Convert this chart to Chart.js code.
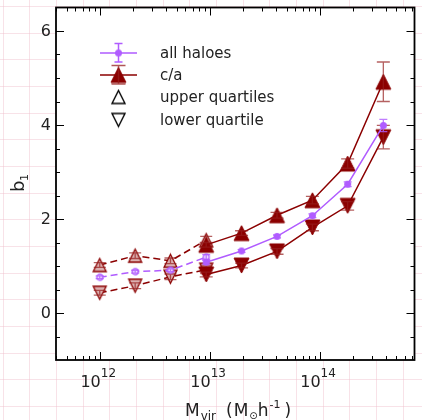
<!DOCTYPE html>
<html>
<head>
<meta charset="utf-8">
<script src="https://cdn.jsdelivr.net/npm/chart.js@4.4.1/dist/chart.umd.min.js"></script>
<style>
    html, body { margin: 0; padding: 0; background: #fff; }
    #wrap { width: 422px; height: 420px; }
</style>
</head>
<body>
<div id="wrap"><canvas id="biasChart" width="422" height="420"></canvas></div>
<script>
// Halo mass bins, M_vir in Msun/h (low-mass bins drawn dashed)
const massLow = [1.0e12, 2.1e12, 4.4e12, 9.3e12];
const massHigh = [9.3e12, 1.95e13, 4.1e13, 8.6e13, 1.8e14, 3.8e14];

// b1 for all haloes
const allLow = [0.76, 0.88, 0.91, 1.19];
const allLowErr = [0.03, 0.03, 0.03, 0.05];
const allHigh = [1.08, 1.32, 1.63, 2.07, 2.74, 3.99];
const allHighErr = [0.04, 0.03, 0.03, 0.04, 0.05, 0.13];

// b1 for the upper c/a quartile
const upperLow = [1.02, 1.22, 1.11, 1.55];
const upperLowErr = [0.05, 0.06, 0.06, 0.08];
const upperHigh = [1.45, 1.70, 2.08, 2.40, 3.18, 4.92];
const upperHighErr = [0.05, 0.05, 0.06, 0.08, 0.10, 0.42];

// b1 for the lower c/a quartile
const lowerLow = [0.43, 0.58, 0.77, 0.92];
const lowerLowErr = [0.05, 0.06, 0.06, 0.08];
const lowerHigh = [0.82, 1.01, 1.31, 1.82, 2.28, 3.74];
const lowerHighErr = [0.05, 0.05, 0.06, 0.07, 0.09, 0.25];

const yTicks = [0, 2, 4, 6];
const xTickExps = [12, 13, 14];
const legendLabels = ["all haloes", "c/a", "upper quartiles", "lower quartile"];

const darkRed = "#8b0000";
const paleRed = "#dcb0b0";
const purple = "#b05cff";
const font = "'DejaVu Sans', sans-serif";

// small canvases used as point styles so triangles are centred on their box
function marker(shape, size, fill, stroke, lw) {
    const c = document.createElement("canvas");
    c.width = c.height = Math.ceil(size + 4);
    const g = c.getContext("2d");
    const m = c.width / 2, h = size / 2;
    g.beginPath();
    if (shape === "up") {
        g.moveTo(m, m - h); g.lineTo(m + h, m + h); g.lineTo(m - h, m + h); g.closePath();
    } else if (shape === "down") {
        g.moveTo(m, m + h); g.lineTo(m + h, m - h); g.lineTo(m - h, m - h); g.closePath();
    } else {
        g.arc(m, m, h, 0, Math.PI * 2);
    }
    if (fill) { g.fillStyle = fill; g.fill(); }
    if (stroke) { g.lineWidth = lw; g.strokeStyle = stroke; g.lineJoin = "miter"; g.stroke(); }
    return c;
}

const upFilled = marker("up", 15, darkRed, darkRed, 1);
const downFilled = marker("down", 15, darkRed, darkRed, 1);
const upPale = marker("up", 13, paleRed, darkRed, 1.3);
const downPale = marker("down", 13, paleRed, darkRed, 1.3);
const dotFilled = marker("dot", 7, purple, null, 0);
const dotOpen = marker("dot", 6, "#ecd8ff", purple, 1.3);

const pts = (xs, ys) => xs.map((x, i) => ({ x: x, y: ys[i] }));

function series(xs, ys, errs, style, color, dashed, order, errColor, capW) {
    return {
        data: pts(xs, ys),
        errors: errs,
        errColor: errColor,
        capW: capW,
        borderColor: color,
        borderWidth: 1.5,
        borderDash: dashed ? [7, 4] : [],
        pointStyle: style,
        pointRadius: 6,
        showLine: true,
        fill: false,
        order: order,
    };
}

// error bars, drawn just above each dataset's markers
const errorBars = {
    id: "errorBars",
    afterDatasetDraw(chart, args) {
        const ds = chart.data.datasets[args.index];
        if (!ds.errors) return;
        const ctx = chart.ctx, y = chart.scales.y;
        ctx.save();
        ctx.strokeStyle = ds.errColor;
        ctx.lineWidth = 1.3;
        args.meta.data.forEach((p, i) => {
            const v = ds.data[i].y, e = ds.errors[i];
            const top = y.getPixelForValue(v + e), bot = y.getPixelForValue(v - e);
            ctx.beginPath();
            ctx.moveTo(p.x, top); ctx.lineTo(p.x, bot);
            ctx.moveTo(p.x - ds.capW / 2, top); ctx.lineTo(p.x + ds.capW / 2, top);
            ctx.moveTo(p.x - ds.capW / 2, bot); ctx.lineTo(p.x + ds.capW / 2, bot);
            ctx.stroke();
        });
        ctx.restore();
    },
};

// pink graph-paper page behind a white plot area
const paper = {
    id: "paper",
    beforeDraw(chart) {
        const ctx = chart.ctx, a = chart.chartArea;
        ctx.save();
        ctx.fillStyle = "#fff";
        ctx.fillRect(0, 0, chart.width, chart.height);
        ctx.strokeStyle = "rgba(240, 190, 205, 0.45)";
        ctx.lineWidth = 1;
        ctx.beginPath();
        for (let x = 2.5; x < chart.width; x += 26.67) {
            ctx.moveTo(Math.round(x) + 0.5, 0); ctx.lineTo(Math.round(x) + 0.5, chart.height);
        }
        for (let y = 6; y < chart.height; y += 26.67) {
            ctx.moveTo(0, Math.round(y) + 0.5); ctx.lineTo(chart.width, Math.round(y) + 0.5);
        }
        ctx.stroke();
        ctx.fillStyle = "#fff";
        ctx.fillRect(a.left, a.top, a.right - a.left, a.bottom - a.top);
        ctx.restore();
    },
};

// frame, inward ticks on all four sides, tick labels and axis titles
const frame = {
    id: "frame",
    afterDraw(chart) {
        const ctx = chart.ctx, a = chart.chartArea;
        const xs = chart.scales.x, ys = chart.scales.y;
        ctx.save();
        ctx.strokeStyle = "#000";
        ctx.lineWidth = 1;
        ctx.beginPath();
        // x ticks
        for (let e = 11; e <= 14; e++) {
            for (let k = 1; k <= 9; k++) {
                const v = k * Math.pow(10, e);
                if (v < xs.min || v > xs.max) continue;
                const px = Math.round(xs.getPixelForValue(v)) + 0.5;
                const len = k === 1 ? 8 : 4;
                ctx.moveTo(px, a.bottom); ctx.lineTo(px, a.bottom - len);
                ctx.moveTo(px, a.top); ctx.lineTo(px, a.top + len);
            }
        }
        // y ticks every 0.5, major every 2
        for (let v = -0.5; v < ys.max; v += 0.5) {
            const py = Math.round(ys.getPixelForValue(v)) + 0.5;
            const len = yTicks.includes(v) ? 8 : 4;
            ctx.moveTo(a.left, py); ctx.lineTo(a.left + len, py);
            ctx.moveTo(a.right, py); ctx.lineTo(a.right - len, py);
        }
        ctx.stroke();
        ctx.lineWidth = 1.8;
        ctx.strokeRect(a.left, a.top, a.right - a.left, a.bottom - a.top);

        ctx.fillStyle = "#222";
        ctx.font = "16px " + font;
        ctx.textAlign = "right";
        ctx.textBaseline = "middle";
        yTicks.forEach(v => ctx.fillText(String(v), 51, ys.getPixelForValue(v) + 1));

        ctx.textBaseline = "alphabetic";
        xTickExps.forEach(e => {
            const px = xs.getPixelForValue(Math.pow(10, e));
            ctx.font = "16px " + font;
            ctx.textAlign = "right";
            ctx.fillText("10", px + 1, 387);
            ctx.font = "12px " + font;
            ctx.textAlign = "left";
            ctx.fillText(String(e), px + 1, 377);
        });

        // x title: M_vir (M_sun h^-1); [text, size, baseline shift, gap before]
        const parts = [
            ["M", 17, 0, 0], ["vir", 12, 4, 1], ["(", 17, 0, 10], ["M", 17, 0, 1],
            ["\u2299", 10, 3, 1], ["h", 17, 0, 0], ["-1", 11, -8, 1], [")", 17, 0, 4],
        ];
        let x = 185;
        ctx.textAlign = "left";
        parts.forEach(([t, s, dy, gap]) => {
            x += gap;
            ctx.font = s + "px " + font;
            ctx.fillText(t, x, 416 + dy);
            x += ctx.measureText(t).width;
        });

        // y title: b_1
        ctx.translate(24, 184);
        ctx.rotate(-Math.PI / 2);
        ctx.font = "18px " + font;
        ctx.fillText("b", -8, 0);
        ctx.font = "11px " + font;
        ctx.fillText("1", 3, 4);
        ctx.restore();
    },
};

// hand-drawn legend with error-bar glyphs
const legendBox = {
    id: "legendBox",
    afterDraw(chart) {
        const ctx = chart.ctx;
        const mx = 118.5, rows = [53, 75, 97, 120];
        ctx.save();
        ctx.lineWidth = 1.5;
        // all haloes
        ctx.strokeStyle = purple;
        ctx.beginPath();
        ctx.moveTo(100, rows[0]); ctx.lineTo(137, rows[0]);
        ctx.moveTo(mx, 43.5); ctx.lineTo(mx, 62);
        ctx.moveTo(mx - 4, 43.5); ctx.lineTo(mx + 4, 43.5);
        ctx.moveTo(mx - 4, 62); ctx.lineTo(mx + 4, 62);
        ctx.stroke();
        ctx.drawImage(dotFilled, mx - dotFilled.width / 2, rows[0] - dotFilled.height / 2);
        // c/a
        ctx.strokeStyle = darkRed;
        ctx.beginPath();
        ctx.moveTo(100, rows[1]); ctx.lineTo(137, rows[1]);
        ctx.stroke();
        ctx.drawImage(upFilled, mx - upFilled.width / 2, rows[1] - upFilled.height / 2);
        ctx.strokeStyle = "rgba(150, 30, 30, 0.75)";
        ctx.beginPath();
        ctx.moveTo(mx, 65.5); ctx.lineTo(mx, 84);
        ctx.moveTo(mx - 7, 65.5); ctx.lineTo(mx + 7, 65.5);
        ctx.moveTo(mx - 7, 84); ctx.lineTo(mx + 7, 84);
        ctx.stroke();
        // quartile glyphs
        const up = marker("up", 13, null, "#000", 1.4);
        const down = marker("down", 13, null, "#000", 1.4);
        ctx.drawImage(up, mx - up.width / 2, rows[2] - up.height / 2);
        ctx.drawImage(down, mx - down.width / 2, rows[3] - down.height / 2);

        ctx.fillStyle = "#222";
        ctx.font = "15px " + font;
        ctx.textBaseline = "middle";
        legendLabels.forEach((t, i) => ctx.fillText(t, 160, rows[i] + 1));
        ctx.restore();
    },
};

new Chart(document.getElementById("biasChart"), {
    type: "scatter",
    data: {
        datasets: [
            series(massHigh, allHigh, allHighErr, dotFilled, purple, false, 1, "rgba(176, 92, 255, 0.8)", 8),
            series(massLow, allLow, allLowErr, dotOpen, purple, true, 2, "rgba(176, 92, 255, 0.8)", 8),
            series(massHigh, upperHigh, upperHighErr, upFilled, darkRed, false, 3, "rgba(150, 30, 30, 0.7)", 13),
            series(massHigh, lowerHigh, lowerHighErr, downFilled, darkRed, false, 4, "rgba(150, 30, 30, 0.7)", 13),
            series(massLow, upperLow, upperLowErr, upPale, darkRed, true, 5, "rgba(150, 30, 30, 0.7)", 12),
            series(massLow, lowerLow, lowerLowErr, downPale, darkRed, true, 6, "rgba(150, 30, 30, 0.7)", 12),
        ],
    },
    options: {
        responsive: false,
        animation: false,
        layout: { padding: { left: 56, top: 7, right: 5, bottom: 60 } },
        scales: {
            x: { type: "logarithmic", min: 4e11, max: 7.3e14, display: false },
            y: { type: "linear", min: -1, max: 6.5, display: false },
        },
        plugins: {
            legend: { display: false },
            tooltip: { enabled: false },
        },
    },
    plugins: [paper, errorBars, frame, legendBox],
});
</script>
</body>
</html>
